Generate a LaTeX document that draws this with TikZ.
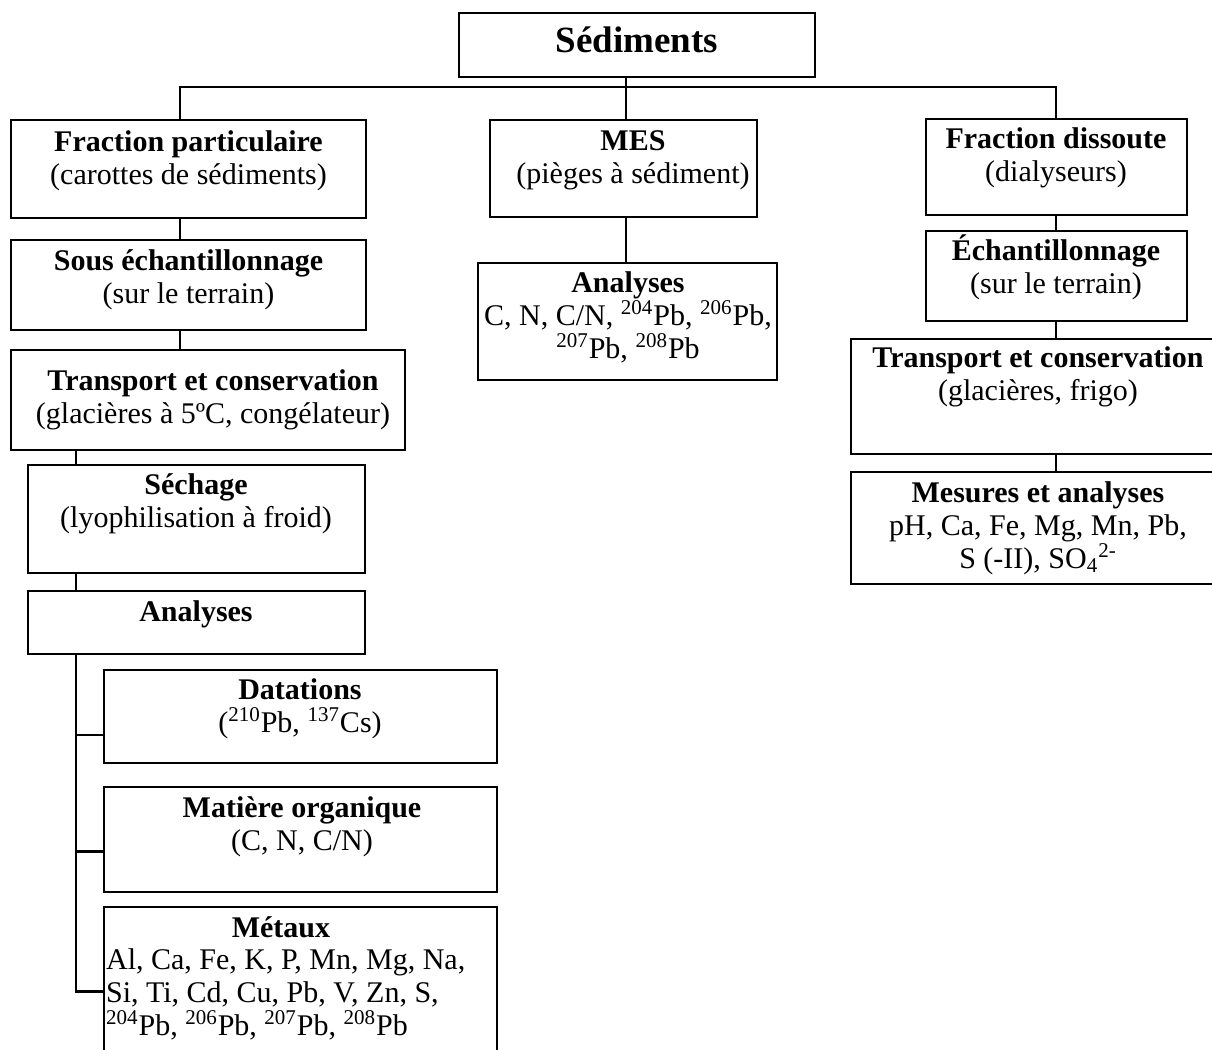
\documentclass[tikz,border=0pt]{standalone}
\usepackage{fontspec}
\setmainfont{Liberation Serif}
\usetikzlibrary{fit}

\begin{document}
\begin{tikzpicture}[x=0.5pt,y=-0.5pt,line width=1.1pt]
  \tikzstyle{box}=[draw, inner sep=0pt, line width=1.1pt]
  \tikzstyle{txt}=[inner sep=0pt, anchor=base, align=center, font=\fontsize{15}{16.5}\selectfont]
  \useasboundingbox (0,0) rectangle (1212,1050);
  \coordinate (bus) at (0,87);
  \coordinate (colA) at (180,0);
  \coordinate (colB) at (76,0);
  \coordinate (colM) at (626,0);
  \coordinate (colR) at (1056,0);
  % racine
  \node [box, fit={(459,13) (815,77)}] (sed) {};
  \node [txt, font=\fontsize{18.5}{20}\selectfont\bfseries] (sedt) at (637,52) {Sédiments};
  % fraction particulaire
  \node [box, fit={(11,120) (366,218)}] (fp) {};
  \node [txt] (fpt) at (188.5,184) {\textbf{Fraction particulaire}\\(carottes de sédiments)};
  \node [box, fit={(11,240) (366,330)}] (sous) {};
  \node [txt] (soust) at (188.5,303) {\textbf{Sous échantillonnage}\\(sur le terrain)};
  \node [box, fit={(11,350) (405,450)}] (trl) {};
  \node [txt] (trlt) at (213,423) {\textbf{Transport et conservation}\\(glacières à 5ºC, congélateur)};
  \node [box, fit={(28,465) (365,573)}] (sech) {};
  \node [txt] (secht) at (196,527) {\textbf{Séchage}\\(lyophilisation à froid)};
  \node [box, fit={(28,591) (365,654)}] (anl) {};
  \node [txt] (anlt) at (196,621) {\textbf{Analyses}};
  \node [box, fit={(104,670) (497,763)}] (dat) {};
  \node [txt] (datt) at (300,732) {\textbf{Datations}\\(\textsuperscript{210}Pb, \textsuperscript{137}Cs)};
  \node [box, fit={(104,787) (497,892)}] (mo) {};
  \node [txt] (mot) at (302,850) {\textbf{Matière organique}\\(C, N, C/N)};
  \node [box, fit={(104,907) (497,1064)}] (met) {};
  \node [txt] (mett) at (281,937) {\textbf{Métaux}};
  \node [txt, anchor=base west, align=left] (metl) at (105,1035) {Al, Ca, Fe, K, P, Mn, Mg, Na,\\Si, Ti, Cd, Cu, Pb, V, Zn, S,\\\textsuperscript{204}Pb, \textsuperscript{206}Pb, \textsuperscript{207}Pb, \textsuperscript{208}Pb};
  % MES
  \node [box, fit={(490,120) (757,217)}] (mes) {};
  \node [txt] (mest) at (633,183) {\textbf{MES}\\(pièges à sédiment)};
  \node [box, fit={(478,263) (777,380)}] (anm) {};
  \node [txt] (anmt) at (628,358) {\textbf{Analyses}\\C, N, C/N, \textsuperscript{204}Pb, \textsuperscript{206}Pb,\\\textsuperscript{207}Pb, \textsuperscript{208}Pb};
  % fraction dissoute
  \node [box, fit={(926,119) (1187,215)}] (fd) {};
  \node [txt] (fdt) at (1056,181) {\textbf{Fraction dissoute}\\(dialyseurs)};
  \node [box, fit={(926,231) (1187,321)}] (ech) {};
  \node [txt] (echt) at (1056,293) {\textbf{Échantillonnage}\\(sur le terrain)};
  \node [box, fit={(851,339) (1220,454)}] (trr) {};
  \node [txt] (trrt) at (1038,400) {\textbf{Transport et conservation}\\(glacières, frigo)};
  \node [box, fit={(851,472) (1220,584)}] (mesu) {};
  \node [txt] (mesut) at (1038,568) {\textbf{Mesures et analyses}\\pH, Ca, Fe, Mg, Mn, Pb,\\S (-II), SO\textsubscript{4}\textsuperscript{2-}};
  % liaisons
  \draw (fp.north -| colA) -- (colA |- bus) -- (colR |- bus) -- (fd.north -| colR);
  \draw (sed.south -| colM) -- (mes.north -| colM);
  \draw (mes.south -| colM) -- (anm.north -| colM);
  \draw (fp.south -| colA) -- (sous.north -| colA);
  \draw (sous.south -| colA) -- (trl.north -| colA);
  \draw (trl.south -| colB) -- (sech.north -| colB);
  \draw (sech.south -| colB) -- (anl.north -| colB);
  \draw (anl.south -| colB) |- ([yshift=-9.25pt]dat.west);
  \draw (anl.south -| colB) |- ([yshift=-6pt]mo.west);
  \draw (anl.south -| colB) |- ([yshift=-3pt]met.west);
  \draw (fd.south -| colR) -- (ech.north -| colR);
  \draw (ech.south -| colR) -- (trr.north -| colR);
  \draw (trr.south -| colR) -- (mesu.north -| colR);
\end{tikzpicture}
\end{document}
